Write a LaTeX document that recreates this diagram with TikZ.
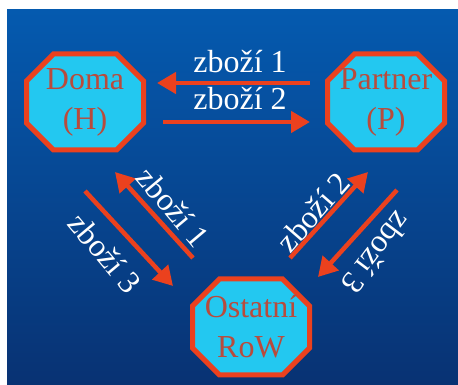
\documentclass[tikz,border=0pt]{standalone}
\usepackage{fontspec}
\setmainfont{Liberation Serif}
\usetikzlibrary{arrows.meta,calc}

\definecolor{bgtop}{RGB}{5,90,175}
\definecolor{bgbottom}{RGB}{8,50,115}
\definecolor{octcyan}{RGB}{35,200,240}
\definecolor{borderred}{RGB}{235,65,30}
\definecolor{namebrown}{RGB}{185,75,60}

\pgfdeclarelayer{background}
\pgfsetlayers{background,main}

\begin{document}
\begin{tikzpicture}[x=1pt, y=1pt,
  country/.style={text=namebrown, align=center, inner sep=0pt, minimum width=117pt, minimum height=96pt, font=\fontsize{32}{40}\selectfont},
  octagon/.style={draw=borderred, line width=5pt, fill=octcyan, line join=miter},
  trade/.style={-{Triangle[length=19pt, width=21pt]}, line width=4.5pt, color=borderred},
  goods/.style={text=white, font=\fontsize{32}{38}\selectfont}]

\useasboundingbox (0,0) rectangle (458,385);

\node[country] (home) at (85,283) {Doma\\(H)};
\node[country] (partner) at (386,283) {Partner\\(P)};
\node[country] (rest) at (251,58) {Ostatní\\RoW};

% octagons and background go behind the names
\begin{pgfonlayer}{background}
\shade[top color=bgtop, bottom color=bgbottom] (7,0) rectangle (458,375);
\foreach \n in {home, partner, rest}
  \draw[octagon, shift={(\n.center)}] (-31.5,48) -- (31.5,48) -- (58.5,21) -- (58.5,-21) -- (31.5,-48) -- (-31.5,-48) -- (-58.5,-21) -- (-58.5,21) -- cycle;
\end{pgfonlayer}

% ends of the trade arrows
\coordinate (top one from) at ($(partner.center)+(-76,19)$);
\coordinate (top one to) at ($(home.center)+(72,19)$);
\coordinate (top two from) at ($(home.center)+(78,-20)$);
\coordinate (top two to) at ($(partner.center)+(-76,-20)$);
\coordinate (left one from) at ($(rest.center)+(-58,69)$);
\coordinate (left one to) at ($(home.center)+(30,-70)$);
\coordinate (left three from) at ($(home.center)+(0,-89)$);
\coordinate (left three to) at ($(rest.center)+(-78,41)$);
\coordinate (right two from) at ($(rest.center)+(39,69)$);
\coordinate (right two to) at ($(partner.center)+(-18,-70)$);
\coordinate (right three from) at ($(partner.center)+(11,-88)$);
\coordinate (right three to) at ($(rest.center)+(67,50)$);

\draw[trade] (top one from) -- (top one to);
\draw[trade] (top two from) -- (top two to);
\draw[trade] (left one from) -- (left one to);
\draw[trade] (left three from) -- (left three to);
\draw[trade] (right two from) -- (right two to);
\draw[trade] (right three from) -- (right three to);

\node[goods, anchor=base] (goods top one) at (240,312) {zboží 1};
\node[goods, anchor=base] (goods top two) at (240,275) {zboží 2};
\node[goods, rotate=-50] (goods left one) at (173,178) {zboží 1};
\node[goods, rotate=-50] (goods left three) at (105,132) {zboží 3};
\node[goods, rotate=49] (goods right two) at (313,173) {zboží 2};
\node[goods, rotate=-127] (goods right three) at (377,132) {zboží 3};
\end{tikzpicture}
\end{document}
